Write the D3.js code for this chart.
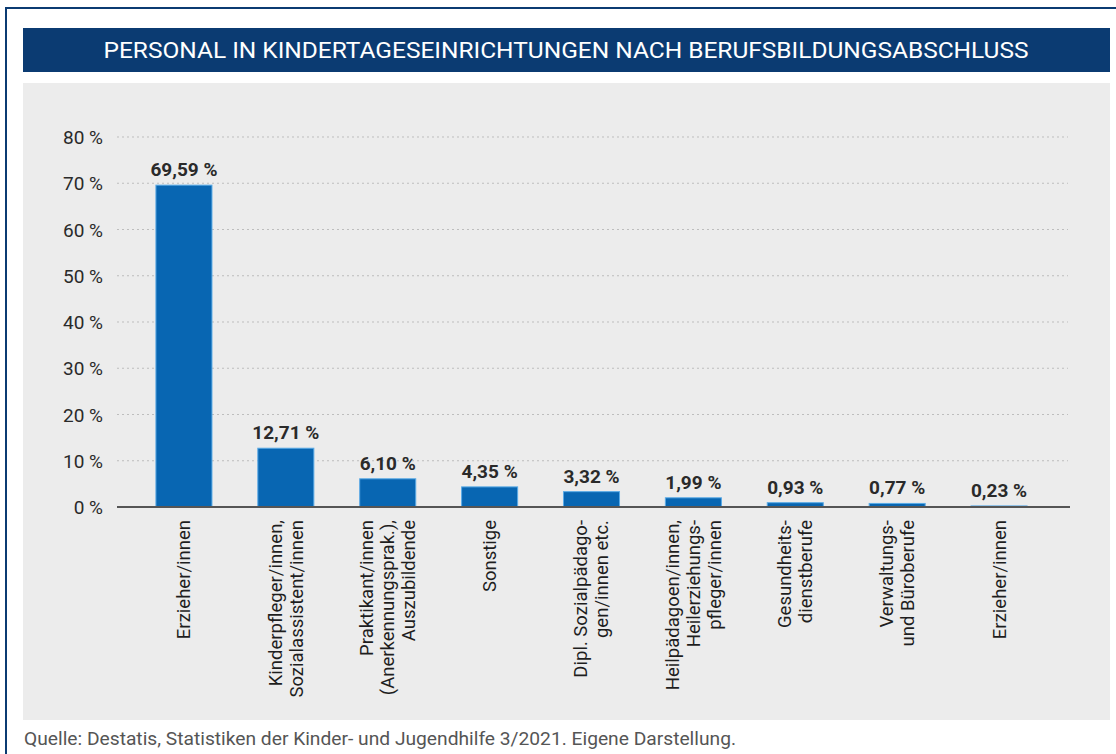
<!DOCTYPE html>
<html><head><meta charset="utf-8">
<script src="https://cdn.jsdelivr.net/npm/d3@7/dist/d3.min.js"></script>
<style>
html,body{margin:0;padding:0;background:#fff;}
svg{display:block;font-family:Roboto,"Noto Sans",sans-serif;}
</style></head>
<body>
<svg id="chart" width="1116" height="754"></svg>
<script>
const title = "PERSONAL IN KINDERTAGESEINRICHTUNGEN NACH BERUFSBILDUNGSABSCHLUSS";
const source = "Quelle: Destatis, Statistiken der Kinder- und Jugendhilfe 3/2021. Eigene Darstellung.";
const categories = [
  ["Erzieher/innen"],
  ["Kinderpfleger/innen,", "Sozialassistent/innen"],
  ["Praktikant/innen", "(Anerkennungsprak.),", "Auszubildende"],
  ["Sonstige"],
  ["Dipl. Sozialpädago-", "gen/innen etc."],
  ["Heilpädagoen/innen,", "Heilerziehungs-", "pfleger/innen"],
  ["Gesundheits-", "dienstberufe"],
  ["Verwaltungs-", "und Büroberufe"],
  ["Erzieher/innen"]
];
const values = [69.59, 12.71, 6.10, 4.35, 3.32, 1.99, 0.93, 0.77, 0.23];
const valueLabels = ["69,59 %", "12,71 %", "6,10 %", "4,35 %", "3,32 %", "1,99 %", "0,93 %", "0,77 %", "0,23 %"];
const yTicks = [0, 10, 20, 30, 40, 50, 60, 70, 80];

const svg = d3.select("#chart");

// outer frame
svg.append("rect").attr("x", 0).attr("y", 0).attr("width", 1116).attr("height", 754).attr("fill", "#fff");
svg.append("line").attr("x1", 6).attr("x2", 1116).attr("y1", 8).attr("y2", 8).attr("stroke", "#0b3b72").attr("stroke-width", 2);
svg.append("line").attr("x1", 6).attr("x2", 6).attr("y1", 7).attr("y2", 754).attr("stroke", "#0b3b72").attr("stroke-width", 2);

// title bar
svg.append("rect").attr("x", 23).attr("y", 28).attr("width", 1087).attr("height", 44).attr("fill", "#0b3b72");
svg.append("text").attr("x", 566).attr("y", 58).attr("text-anchor", "middle")
  .attr("fill", "#fff").attr("font-size", 22).attr("textLength", 925).attr("lengthAdjust", "spacingAndGlyphs")
  .text(title);

// gray panel
svg.append("rect").attr("x", 23).attr("y", 83).attr("width", 1087).attr("height", 637).attr("fill", "#ececec");

const y = d3.scaleLinear().domain([0, 80]).range([507, 137]);
const x = d3.scaleBand().domain(d3.range(values.length)).range([133, 1050]).paddingInner(0.45).paddingOuter(0.225);

// gridlines
svg.append("g").selectAll("line").data(yTicks.filter(d => d > 0)).join("line")
  .attr("x1", 117).attr("x2", 1068).attr("y1", d => y(d)).attr("y2", d => y(d))
  .attr("stroke", "#bdbdbd").attr("stroke-width", 1).attr("stroke-dasharray", "2,3");

// y axis
const yAxis = d3.axisLeft(y).tickValues(yTicks).tickSize(0).tickPadding(0).tickFormat(d => d + " %");
const yg = svg.append("g").attr("transform", "translate(103,0)").call(yAxis);
yg.select(".domain").remove();
yg.selectAll("text").attr("font-size", 19).attr("fill", "#2a2a2a").attr("font-family", "Roboto, sans-serif").attr("dy", "0.35em");

// bars
svg.append("g").selectAll("rect").data(values).join("rect")
  .attr("x", (d, i) => x(i)).attr("width", x.bandwidth())
  .attr("y", d => y(d)).attr("height", d => y(0) - y(d))
  .attr("fill", "#0866b2").attr("stroke", "#5aaae6").attr("stroke-width", 1);

// baseline
svg.append("line").attr("x1", 117).attr("x2", 1070).attr("y1", y(0)).attr("y2", y(0)).attr("stroke", "#555").attr("stroke-width", 2);

// value labels
svg.append("g").selectAll("text").data(values).join("text")
  .attr("x", (d, i) => x(i) + x.bandwidth() / 2).attr("y", d => y(d) - 9)
  .attr("text-anchor", "middle").attr("font-size", 19).attr("font-weight", "bold").attr("fill", "#2a2a2a")
  .text((d, i) => valueLabels[i]);

// category labels
const xAxis = d3.axisBottom(x).tickSize(0).tickFormat("");
const xg = svg.append("g").attr("transform", `translate(0,${y(0)})`).call(xAxis);
xg.select(".domain").remove();
xg.selectAll(".tick").each(function(d) {
  const lines = categories[d];
  const n = lines.length;
  const t = d3.select(this).append("text")
    .attr("transform", "translate(0,13) rotate(-90)")
    .attr("text-anchor", "end").attr("font-size", 18.5).attr("fill", "#1e1e1e")
    .attr("font-family", "Roboto, sans-serif");
  lines.forEach((l, k) => {
    t.append("tspan").attr("x", 0).attr("y", (k - (n - 1) / 2) * 21).attr("dy", "0.35em").text(l);
  });
});

// source
svg.append("text").attr("x", 24).attr("y", 745).attr("font-size", 18).attr("fill", "#555")
  .attr("textLength", 712).attr("lengthAdjust", "spacingAndGlyphs").text(source);
</script>
</body></html>
